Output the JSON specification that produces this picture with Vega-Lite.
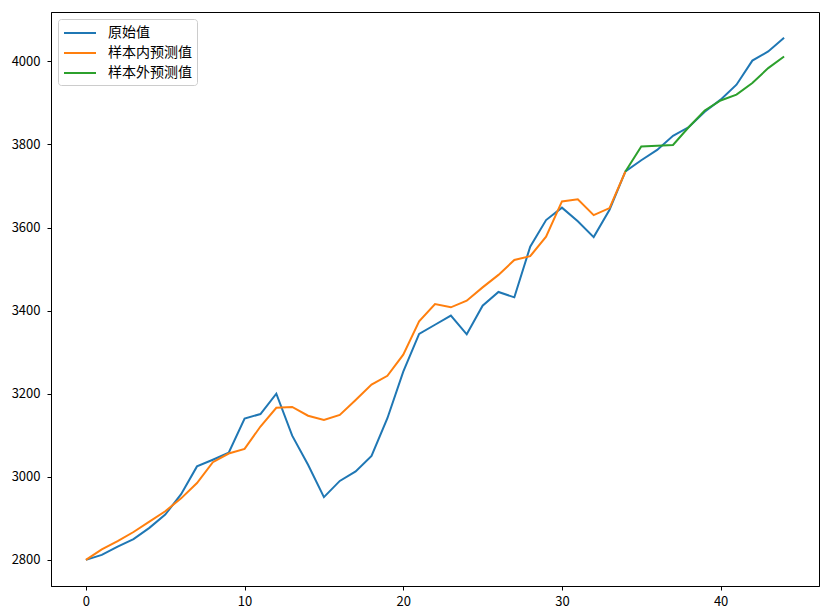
{
  "$schema": "https://vega.github.io/schema/vega-lite/v6.json",
  "description": "原始值与样本内/样本外预测值对比折线图",
  "autosize": {"type": "none"},
  "padding": {"left": 51, "top": 12, "right": 12, "bottom": 30},
  "width": 768,
  "height": 574,
  "background": "white",
  "data": {
    "values": [
      {"x": 0, "v": 2800, "series": "原始值"}, {"x": 1, "v": 2812, "series": "原始值"},
      {"x": 2, "v": 2832, "series": "原始值"}, {"x": 3, "v": 2850, "series": "原始值"},
      {"x": 4, "v": 2877, "series": "原始值"}, {"x": 5, "v": 2909, "series": "原始值"},
      {"x": 6, "v": 2958, "series": "原始值"}, {"x": 7, "v": 3025, "series": "原始值"},
      {"x": 8, "v": 3041, "series": "原始值"}, {"x": 9, "v": 3058, "series": "原始值"},
      {"x": 10, "v": 3140, "series": "原始值"}, {"x": 11, "v": 3151, "series": "原始值"},
      {"x": 12, "v": 3200, "series": "原始值"}, {"x": 13, "v": 3099, "series": "原始值"},
      {"x": 14, "v": 3029, "series": "原始值"}, {"x": 15, "v": 2951, "series": "原始值"},
      {"x": 16, "v": 2990, "series": "原始值"}, {"x": 17, "v": 3013, "series": "原始值"},
      {"x": 18, "v": 3050, "series": "原始值"}, {"x": 19, "v": 3141, "series": "原始值"},
      {"x": 20, "v": 3253, "series": "原始值"}, {"x": 21, "v": 3344, "series": "原始值"},
      {"x": 22, "v": 3366, "series": "原始值"}, {"x": 23, "v": 3388, "series": "原始值"},
      {"x": 24, "v": 3343, "series": "原始值"}, {"x": 25, "v": 3412, "series": "原始值"},
      {"x": 26, "v": 3445, "series": "原始值"}, {"x": 27, "v": 3432, "series": "原始值"},
      {"x": 28, "v": 3554, "series": "原始值"}, {"x": 29, "v": 3618, "series": "原始值"},
      {"x": 30, "v": 3648, "series": "原始值"}, {"x": 31, "v": 3615, "series": "原始值"},
      {"x": 32, "v": 3577, "series": "原始值"}, {"x": 33, "v": 3643, "series": "原始值"},
      {"x": 34, "v": 3735, "series": "原始值"}, {"x": 35, "v": 3762, "series": "原始值"},
      {"x": 36, "v": 3787, "series": "原始值"}, {"x": 37, "v": 3821, "series": "原始值"},
      {"x": 38, "v": 3842, "series": "原始值"}, {"x": 39, "v": 3879, "series": "原始值"},
      {"x": 40, "v": 3908, "series": "原始值"}, {"x": 41, "v": 3944, "series": "原始值"},
      {"x": 42, "v": 4002, "series": "原始值"}, {"x": 43, "v": 4024, "series": "原始值"},
      {"x": 44, "v": 4057, "series": "原始值"},
      {"x": 0, "v": 2800, "series": "样本内预测值"}, {"x": 1, "v": 2825, "series": "样本内预测值"},
      {"x": 2, "v": 2845, "series": "样本内预测值"}, {"x": 3, "v": 2867, "series": "样本内预测值"},
      {"x": 4, "v": 2892, "series": "样本内预测值"}, {"x": 5, "v": 2917, "series": "样本内预测值"},
      {"x": 6, "v": 2948, "series": "样本内预测值"}, {"x": 7, "v": 2985, "series": "样本内预测值"},
      {"x": 8, "v": 3035, "series": "样本内预测值"}, {"x": 9, "v": 3056, "series": "样本内预测值"},
      {"x": 10, "v": 3067, "series": "样本内预测值"}, {"x": 11, "v": 3121, "series": "样本内预测值"},
      {"x": 12, "v": 3166, "series": "样本内预测值"}, {"x": 13, "v": 3168, "series": "样本内预测值"},
      {"x": 14, "v": 3147, "series": "样本内预测值"}, {"x": 15, "v": 3137, "series": "样本内预测值"},
      {"x": 16, "v": 3149, "series": "样本内预测值"}, {"x": 17, "v": 3185, "series": "样本内预测值"},
      {"x": 18, "v": 3222, "series": "样本内预测值"}, {"x": 19, "v": 3243, "series": "样本内预测值"},
      {"x": 20, "v": 3294, "series": "样本内预测值"}, {"x": 21, "v": 3374, "series": "样本内预测值"},
      {"x": 22, "v": 3416, "series": "样本内预测值"}, {"x": 23, "v": 3408, "series": "样本内预测值"},
      {"x": 24, "v": 3424, "series": "样本内预测值"}, {"x": 25, "v": 3456, "series": "样本内预测值"},
      {"x": 26, "v": 3486, "series": "样本内预测值"}, {"x": 27, "v": 3522, "series": "样本内预测值"},
      {"x": 28, "v": 3531, "series": "样本内预测值"}, {"x": 29, "v": 3578, "series": "样本内预测值"},
      {"x": 30, "v": 3663, "series": "样本内预测值"}, {"x": 31, "v": 3668, "series": "样本内预测值"},
      {"x": 32, "v": 3630, "series": "样本内预测值"}, {"x": 33, "v": 3647, "series": "样本内预测值"},
      {"x": 34, "v": 3735, "series": "样本内预测值"},
      {"x": 34, "v": 3735, "series": "样本外预测值"}, {"x": 35, "v": 3795, "series": "样本外预测值"},
      {"x": 36, "v": 3797, "series": "样本外预测值"}, {"x": 37, "v": 3799, "series": "样本外预测值"},
      {"x": 38, "v": 3842, "series": "样本外预测值"}, {"x": 39, "v": 3882, "series": "样本外预测值"},
      {"x": 40, "v": 3906, "series": "样本外预测值"}, {"x": 41, "v": 3920, "series": "样本外预测值"},
      {"x": 42, "v": 3948, "series": "样本外预测值"}, {"x": 43, "v": 3984, "series": "样本外预测值"},
      {"x": 44, "v": 4012, "series": "样本外预测值"}
    ]
  },
  "mark": {"type": "line", "strokeWidth": 2},
  "encoding": {
    "x": {
      "field": "x",
      "type": "quantitative",
      "scale": {"domain": [-2.2, 46.2], "nice": false, "zero": false},
      "axis": {"values": [0, 10, 20, 30, 40], "title": null}
    },
    "y": {
      "field": "v",
      "type": "quantitative",
      "scale": {"domain": [2737, 4119], "nice": false, "zero": false},
      "axis": {"values": [2800, 3000, 3200, 3400, 3600, 3800, 4000], "format": "d", "title": null}
    },
    "color": {
      "field": "series",
      "type": "nominal",
      "scale": {
        "domain": ["原始值", "样本内预测值", "样本外预测值"],
        "range": ["#1f77b4", "#ff7f0e", "#2ca02c"]
      },
      "legend": {
        "title": null,
        "orient": "top-left",
        "offset": 7,
        "symbolType": "M-1,0L3,0",
        "symbolSize": 256,
        "symbolStrokeWidth": 2,
        "labelOffset": 27,
        "labelFontSize": 14,
        "labelFont": "Noto Sans CJK SC",
        "labelColor": "#000",
        "rowPadding": 4,
        "padding": 5,
        "fillColor": "white",
        "strokeColor": "#cccccc",
        "cornerRadius": 3
      }
    }
  },
  "config": {
    "view": {"stroke": "#000", "strokeWidth": 1},
    "axis": {
      "grid": false,
      "domainColor": "#000",
      "tickColor": "#000",
      "tickSize": 4,
      "labelFont": "Noto Sans CJK SC",
      "labelFontSize": 13,
      "labelColor": "#000"
    },
    "axisX": {"labelPadding": 5},
    "axisY": {"labelPadding": 7}
  }
}
